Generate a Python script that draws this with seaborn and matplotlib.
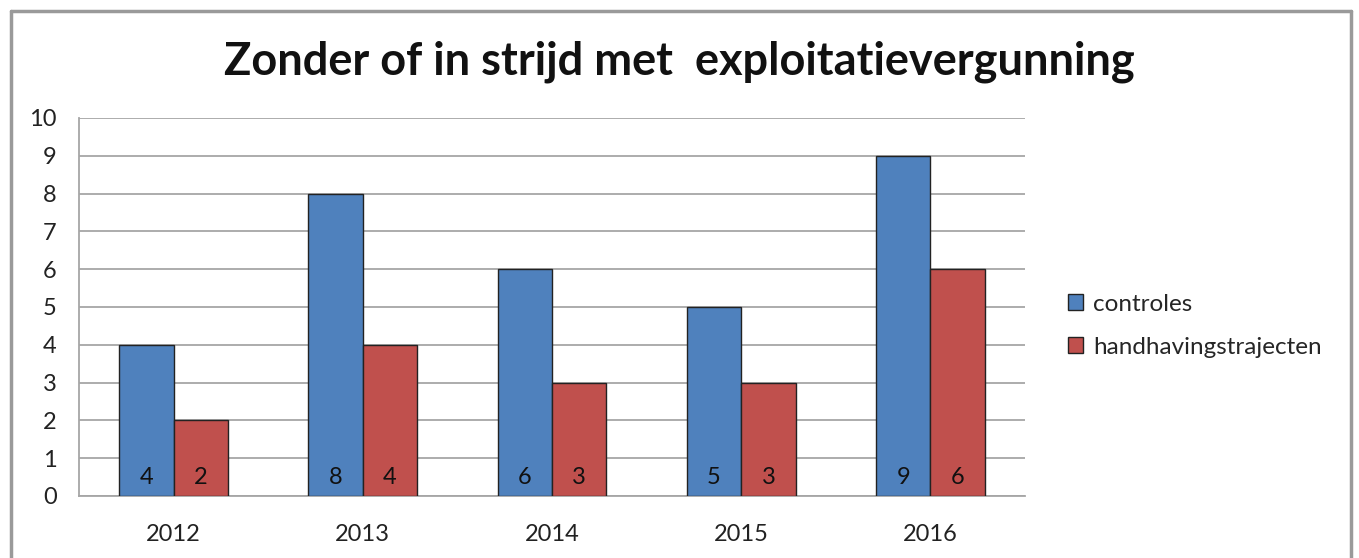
import matplotlib
matplotlib.use("Agg")
import matplotlib.pyplot as plt
import seaborn as sns
import pandas as pd
from matplotlib.lines import Line2D
from matplotlib.patches import Patch

years = ["2012", "2013", "2014", "2015", "2016"]
controles = [4, 8, 6, 5, 9]
handhaving = [2, 4, 3, 3, 6]
series_names = ["controles", "handhavingstrajecten"]
title = "Zonder of in strijd met  exploitatievergunning"

colors = ["#4F81BD", "#C0504D"]

df = pd.DataFrame({
    "jaar": years * 2,
    "waarde": controles + handhaving,
    "reeks": [series_names[0]] * len(years) + [series_names[1]] * len(years),
})

sns.set_theme(style="white")
plt.rcParams["font.family"] = ["Lato", "DejaVu Sans"]

fig = plt.figure(figsize=(13.59, 5.58), dpi=100)
ax = fig.add_axes([79 / 1359, 1 - 496 / 558, (1025 - 79) / 1359, (496 - 118) / 558])

sns.barplot(data=df, x="jaar", y="waarde", hue="reeks", order=years,
            hue_order=series_names, palette=colors, width=0.575,
            edgecolor="#222222", linewidth=1.0, saturation=1, ax=ax, legend=False, zorder=3)

ax.set_ylim(0, 10)
ax.set_xlim(-0.5, 4.5)
ax.set_yticks(range(0, 11))
ax.yaxis.grid(True, color="#a6a6a6", linewidth=1.3, zorder=0)
ax.set_axisbelow(True)
ax.set_xlabel("")
ax.set_ylabel("")
for s in ["top", "right"]:
    ax.spines[s].set_visible(False)
ax.spines["left"].set_color("#a6a6a6")
ax.spines["left"].set_linewidth(1.3)
ax.spines["bottom"].set_color("#a6a6a6")
ax.spines["bottom"].set_linewidth(1.3)
ax.tick_params(axis="both", labelsize=17, colors="#222222", length=0)
ax.tick_params(axis="y", pad=16)
ax.tick_params(axis="x", pad=20)

for container in ax.containers:
    for bar in container:
        h = bar.get_height()
        ax.text(bar.get_x() + bar.get_width() / 2, 0.5, f"{int(h)}",
                ha="center", va="center", fontsize=17, color="#111111", zorder=5)

handles = [Patch(facecolor=c, edgecolor="#222222", linewidth=1.0) for c in colors]
fig.legend(handles, series_names, loc="upper left",
           bbox_to_anchor=(1058 / 1359, 1 - 284 / 558), frameon=False,
           fontsize=17.5, handlelength=0.64, handleheight=0.64, handletextpad=0.4,
           labelspacing=0.9, borderaxespad=0)

fig.text(0.5, 1 - 62 / 558, title, ha="center", va="center",
         fontsize=32.5, fontweight="bold", color="#111111")

# outer frame
fc = "#9a9a9a"
fig.add_artist(Line2D([11 / 1359, 1351 / 1359], [1 - 11 / 558, 1 - 11 / 558], color=fc, lw=2.5, transform=fig.transFigure))
fig.add_artist(Line2D([11 / 1359, 11 / 1359], [1 - 11 / 558, 0], color=fc, lw=2.5, transform=fig.transFigure))
fig.add_artist(Line2D([1351 / 1359, 1351 / 1359], [1 - 11 / 558, 0], color=fc, lw=2.5, transform=fig.transFigure))

fig.savefig("out.png", dpi=100)
